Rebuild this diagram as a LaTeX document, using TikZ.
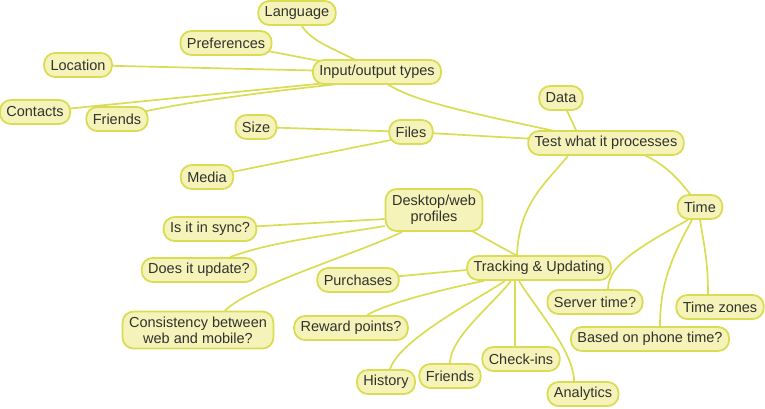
\documentclass[tikz,border=0pt]{standalone}
\usepackage{fontspec}
\setmainfont{Liberation Sans}
\usetikzlibrary{backgrounds}
\definecolor{bordc}{RGB}{218,221,84}
\definecolor{fillc}{RGB}{245,243,186}
\definecolor{txtc}{RGB}{50,50,45}
\tikzset{
  topic/.style={draw=bordc, fill=fillc, line width=1.8pt, rounded corners=11pt,
    minimum height=24pt, inner xsep=6.5pt, inner ysep=3pt, text=txtc,
    font=\fontsize{14.5}{16}\selectfont, align=center},
  link/.style={draw=bordc, line width=1.7pt}
}
\begin{document}
\begin{tikzpicture}[x=1pt,y=-1pt]
\useasboundingbox (0,0) rectangle (765,408);
% nodes
\node[topic] (lang) at (297,13) {Language};
\node[topic] (pref) at (226,43) {Preferences};
\node[topic] (loc) at (78,65) {Location};
\node[topic] (io) at (377,72) {Input/output types};
\node[topic] (cont) at (35,112) {Contacts};
\node[topic] (fr1) at (117,119) {Friends};
\node[topic] (data) at (561,98) {Data};
\node[topic] (size) at (256,127) {Size};
\node[topic] (files) at (411,132) {Files};
\node[topic] (test) at (606,143) {Test what it processes};
\node[topic] (media) at (207,177) {Media};
\node[topic, minimum height=42pt, minimum width=90pt] (desk) at (434,210) {Desktop/web\\profiles};
\node[topic] (time) at (700,207) {Time};
\node[topic] (sync) at (210,229) {Is it in sync?};
\node[topic] (trk) at (539,268) {Tracking \& Updating};
\node[topic] (does) at (199,270) {Does it update?};
\node[topic] (pur) at (358,280) {Purchases};
\node[topic] (srv) at (595,302) {Server time?};
\node[topic] (tz) at (720,307) {Time zones};
\node[topic, minimum height=37pt] (cons) at (198,330) {Consistency between\\web and mobile?};
\node[topic] (rew) at (351,328) {Reward points?};
\node[topic] (phone) at (650,339) {Based on phone time?};
\node[topic] (hist) at (386,382) {History};
\node[topic] (fr2) at (450,376) {Friends};
\node[topic] (chk) at (521,359) {Check-ins};
\node[topic] (ana) at (583,394) {Analytics};
% connectors
\begin{scope}[on background layer]
\fill[white] (0,0) rectangle (765,408);
\draw[link] (lang.center) .. controls +(5,30) and +(-40,-25) .. (io.center);
\draw[link] (pref.center) -- (io.center);
\draw[link] (loc.center) -- (io.center);
\draw[link] (cont.center) -- ([yshift=-6pt]io.center);
\draw[link] (fr1.center) .. controls +(40,-15) and +(-80,8) .. ([yshift=-8pt]io.center);
\draw[link] (io.center) .. controls +(10,30) and +(-100,-25) .. (test.center);
\draw[link] (size.center) -- (files.center);
\draw[link] (media.center) -- ([yshift=-4pt]files.center);
\draw[link] (files.center) -- (test.center);
\draw[link] (data.center) -- ([xshift=-30pt]test.north);
\draw[link] (test.center) .. controls +(60,12) and +(-20,-25) .. (time.center);
\draw[link] ([xshift=-38pt]test.south) .. controls +(-25,30) and +(2,-50) .. ([xshift=-22pt]trk.north);
\draw[link] ([xshift=-12pt]time.south) .. controls +(-45,25) and +(0,-25) .. ([xshift=13pt]srv.north);
\draw[link] ([xshift=-8pt]time.south) .. controls +(-22,40) and +(0,-40) .. ([xshift=10pt]phone.north);
\draw[link] (time.south) .. controls +(5,30) and +(0,-30) .. ([xshift=-12pt]tz.north);
\draw[link] (desk.center) -- (trk.center);
\draw[link] (sync.center) -- ([yshift=-9pt]desk.west);
\draw[link] ([yshift=-16pt]desk.west) .. controls +(-60,10) and +(40,-15) .. ([xshift=31pt]does.north);
\draw[link] ([xshift=-32pt]desk.south) .. controls +(-40,20) and +(25,-25) .. ([xshift=27pt]cons.north);
\draw[link] (pur.center) -- ([yshift=-2pt]trk.west);
\draw[link] ([xshift=-55pt]trk.south) .. controls +(-40,8) and +(20,-12) .. ([xshift=16pt]rew.north);
\draw[link] ([xshift=-34pt]trk.south) .. controls +(-30,20) and +(10,-30) .. ([xshift=4pt]hist.north);
\draw[link] ([xshift=-28pt]trk.south) .. controls +(-20,25) and +(0,-25) .. (fr2.north);
\draw[link] ([xshift=-24pt]trk.south) -- ([xshift=-6pt]chk.north);
\draw[link] ([xshift=-20pt]trk.south) .. controls +(15,25) and +(0,-30) .. ([xshift=-9pt]ana.north);
\end{scope}
\end{tikzpicture}
\end{document}
